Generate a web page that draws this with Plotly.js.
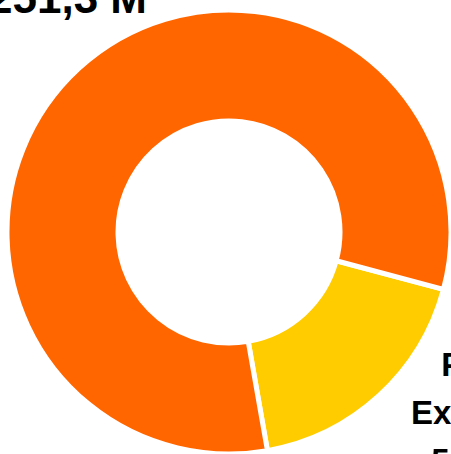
<!DOCTYPE html>
<html>
<head>
<meta charset="utf-8">
<script src="https://cdn.plot.ly/plotly-3.0.1.min.js"></script>
<style>
  html, body { margin: 0; padding: 0; background: #ffffff; overflow: hidden; }
  #chart { width: 451px; height: 454px; }
</style>
</head>
<body>
<div id="chart"></div>
<script>
// ---- data ----
var categories = ["Pago Externos", "Internos"];
var values = [55.4, 251.3];
var valueLabels = ["55,4 M", "251,3 M"];
var labelLines = [["Pago", "Externos"], []];
var colors = ["#FFCC00", "#FF6600"];

var pieTrace = {
  type: "pie",
  labels: categories,
  values: values,
  sort: false,
  direction: "clockwise",
  rotation: 105,
  hole: 0.5,
  textinfo: "none",
  hoverinfo: "label+value",
  marker: { colors: colors, line: { color: "#ffffff", width: 5 } },
  domain: { x: [0.0155, 1], y: [0, 0.978] },
  showlegend: false
};

function labelText(i, glyphSize) {
  var lines = labelLines[i].concat([valueLabels[i]]);
  if (glyphSize) {
    lines = lines.map(function (s) { return '<span style="font-size:' + glyphSize + 'px">' + s + '</span>'; });
  }
  return lines.join("<br>");
}

var layout = {
  width: 451,
  height: 454,
  margin: { l: 0, r: 0, t: 0, b: 0 },
  paper_bgcolor: "#ffffff",
  plot_bgcolor: "#ffffff",
  showlegend: false,
  annotations: [
    {
      text: labelText(1),
      xref: "paper", yref: "paper",
      x: 0.1486, y: 1.0049,
      xanchor: "center", yanchor: "middle",
      showarrow: false,
      align: "center",
      font: { family: "Arial, 'Liberation Sans', sans-serif", size: 44, color: "#000000", weight: "bold" }
    },
    {
      text: labelText(0, 33),
      xref: "paper", yref: "paper",
      x: 1.0674, y: 0.0923,
      xanchor: "center", yanchor: "middle",
      showarrow: false,
      align: "center",
      font: { family: "Arial, 'Liberation Sans', sans-serif", size: 37, color: "#000000", weight: "bold" }
    }
  ]
};

Plotly.newPlot("chart", [pieTrace], layout, { displayModeBar: false, staticPlot: true });
</script>
</body>
</html>
